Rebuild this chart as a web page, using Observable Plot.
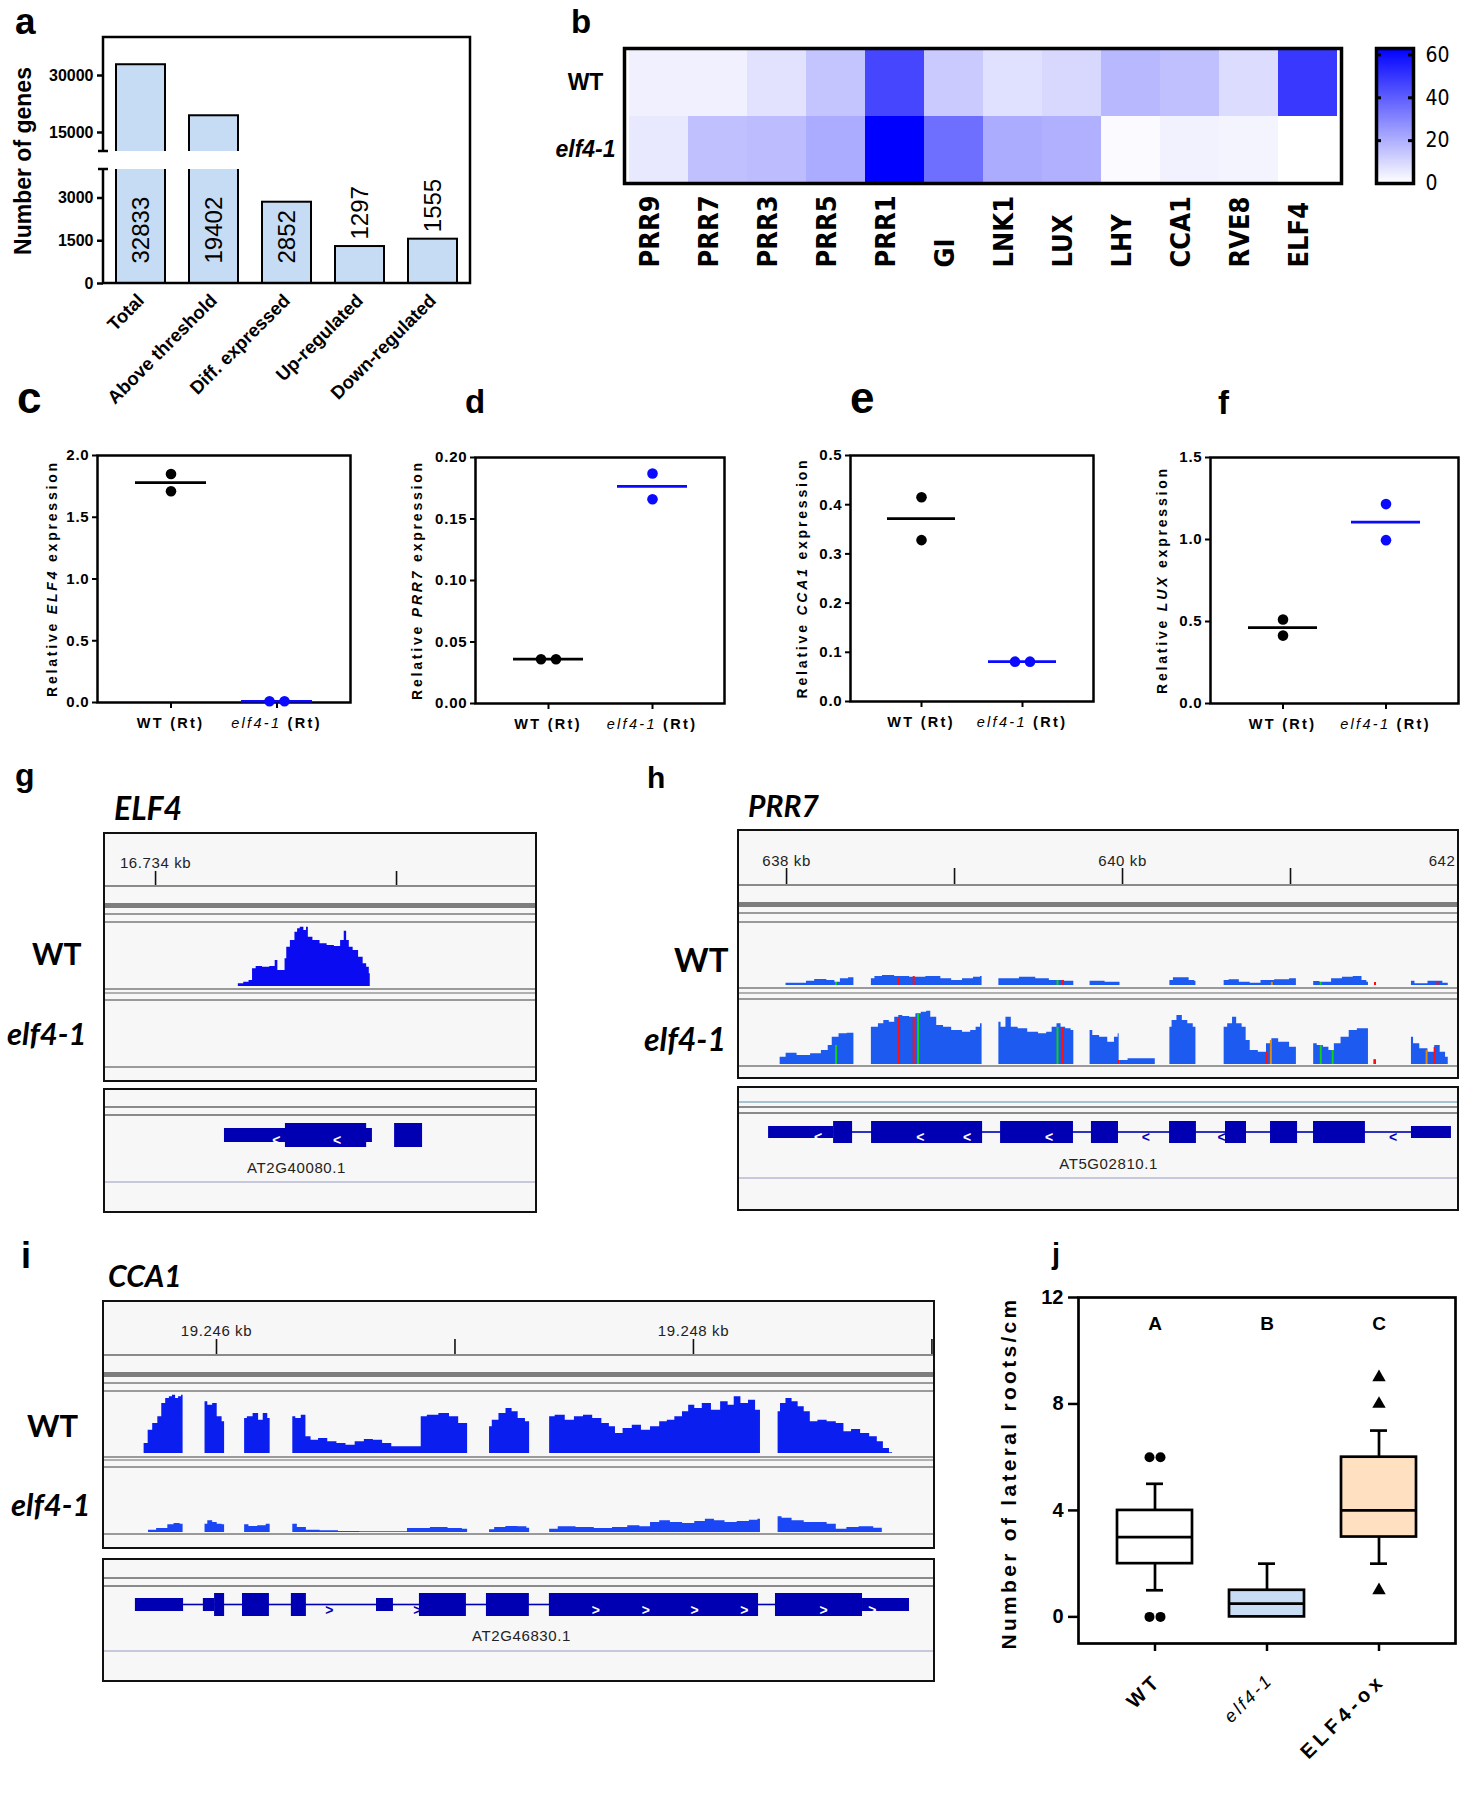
<!DOCTYPE html>
<html>
<head>
<meta charset="utf-8">
<script src="https://cdn.jsdelivr.net/npm/d3@7"></script>
<script src="https://cdn.jsdelivr.net/npm/@observablehq/plot@0.6"></script>
<style>
  html, body { margin: 0; padding: 0; background: #fff; }
  #root { position: relative; width: 1467px; height: 1800px; overflow: hidden; background: #fff; }
  .igvbox { position: absolute; box-sizing: border-box; border: 2.5px solid #111; background: #f7f7f7; }
  .hl { position: absolute; }
</style>
</head>
<body>
<div id="root"></div>
<script>
// ================= DATA =================
// (a) gene counts
const geneCategories = ["Total", "Above threshold", "Diff. expressed", "Up-regulated", "Down-regulated"];
const geneCounts = [32833, 19402, 2852, 1297, 1555];
const aUpperDomain = [10000, 40000];
const aLowerDomain = [0, 4000];
const aUpperTicks = [15000, 30000];
const aLowerTicks = [0, 1500, 3000];

// (b) heatmap
const clockGenes = ["PRR9", "PRR7", "PRR3", "PRR5", "PRR1", "GI", "LNK1", "LUX", "LHY", "CCA1", "RVE8", "ELF4"];
const genotypes = ["WT", "elf4-1"];
const heatWT = [3.7, 3.7, 7.2, 14.6, 45.7, 13.1, 7.7, 9.6, 17.5, 15.6, 8.6, 49.2];
const heatElf4 = [5.7, 15.6, 16.6, 20.8, 63, 35.8, 20.5, 19.5, 1.2, 3.2, 2.7, 0];
const heatMax = 63;
const heatTicks = [0, 20, 40, 60];

// (c-f) qPCR
const qGroups = ["WT", "elf4-1"];
const elf4WT = [1.85, 1.71], elf4Mut = [0.01, 0.01];
const prr7WT = [0.036, 0.036], prr7Mut = [0.187, 0.166];
const cca1WT = [0.415, 0.328], cca1Mut = [0.081, 0.081];
const luxWT = [0.512, 0.414], luxMut = [1.216, 0.996];

// (j) lateral roots
const rootGroups = ["WT", "elf4-1", "ELF4-ox"];
const rootLow = [1, 0, 2];
const rootQ1 = [2, 0, 3];
const rootMedian = [3, 0.5, 4];
const rootQ3 = [4, 1, 6];
const rootHigh = [5, 2, 7];
const rootOutlierGroup = ["WT", "WT", "WT", "WT", "ELF4-ox", "ELF4-ox", "ELF4-ox"];
const rootOutlierValue = [6, 6, 0, 0, 9, 8, 1];
const rootLetters = ["A", "B", "C"];
const rootLetterLevel = 11;
const rootTicks = [0, 4, 8, 12];

// (g) ELF4 locus, positions in bp from 16,734 kb
const gTicks = [0, 1000];
const gTickLabels = [{pos: 0, label: "16.734 kb", anchor: "middle"}];
const gCovWT = [[[332,0],[355,2.7],[377,4.3],[399,6],[406,17.7],[429,20],[459,19.3],[489,20],[504,26],[511,16],[534,16],[541,27.7],[548,39.3],[571,46],[586,54.3],[593,57.7],[608,59.3],[623,56],[630,59.3],[638,49.3],[668,46],[697,42.7],[727,41],[757,40],[779,46],[787,55.3],[799,46],[809,39.3],[831,36],[854,29.3],[869,22.7],[883,19.3],[891,12.7]]];
const gCovElf4 = [];
const gThin = [[286, 900]];
const gThick = [[539, 876], [992, 1108]];
const gIntrons = [];
const gExonChev = [502, 755];
const gIntronChev = [];

// (h) PRR7 locus, positions in bp from 638 kb
const hTicks = [0, 1000, 2000, 3000, 4000];
const hTickLabels = [{pos: 0, label: "638 kb", anchor: "middle"}, {pos: 2000, label: "640 kb", anchor: "middle"}, {pos: 4000, label: "642", anchor: "end"}];
const hCovWT = [
  [[-3,2.3],[111,2.3],[127,4.3],[208,6],[272,5],[304,3.3],[337,6.7],[401,7.7]],
  [[505,6.7],[547,9],[595,10],[692,9],[773,8.3],[886,9],[951,6.7],[1015,5],[1080,6.7],[1145,8.3],[1164,9]],
  [[1264,6.7],[1338,6.7],[1435,8.3],[1532,6.7],[1597,5],[1710,4.3]],
  [[1807,4.3],[1985,3.3]],
  [[2282,5],[2324,7.7],[2372,7.7],[2421,5],[2437,4.3]],
  [[2605,5],[2663,5.7],[2728,3.3],[2792,2.3],[2857,5],[2954,5.7],[3035,6.7]],
  [[3138,4],[3212,3.3],[3277,6.7],[3341,8.3],[3406,9],[3445,5],[3464,3.3]],
  [[3720,4.3],[3762,1.7],[3875,4.3],[3939,2.3]]
];
const hCovElf4 = [
  [[-57,0],[-19,7.3],[14,11.3],[111,9],[175,10.7],[240,14],[256,19],[288,27.3],[337,30.7],[385,31.3],[401,31.3]],
  [[505,37.3],[531,37.3],[563,40.7],[595,44],[628,42.3],[660,47.3],[676,49],[708,48],[757,47.3],[783,50.7],[821,52.3],[847,53.3],[870,47.3],[918,39],[951,37.3],[1015,34],[1080,32.3],[1112,34],[1145,37.3],[1164,40.7]],
  [[1264,42.3],[1290,37.3],[1322,47.3],[1354,37.3],[1403,35.7],[1468,32.3],[1532,30.7],[1565,32.3],[1597,37.3],[1623,40.7],[1645,37.3],[1678,35.7],[1710,34]],
  [[1807,34],[1839,29],[1888,27.3],[1936,22.3],[1968,27.3],[1980,30.7]],
  [[1985,4],[2081,5.7],[2195,5.7]],
  [[2282,37.3],[2308,44],[2340,49],[2372,44],[2405,40.7],[2437,37.3]],
  [[2605,37.3],[2647,40.7],[2663,47.3],[2696,40.7],[2728,37.3],[2744,24],[2776,14],[2841,12.3],[2873,20.7],[2905,25.7],[2954,22.3],[3035,17.3]],
  [[3138,20.7],[3180,19],[3212,17.3],[3245,14],[3277,20.7],[3325,27.3],[3374,34],[3422,35.7],[3464,35.7]],
  [[3496,4.7],[3509,4.7]],
  [[3720,27.3],[3745,20.7],[3794,15.7],[3842,12.3],[3875,19],[3907,12.3],[3939,7.3]]
];
const hMismatchWT = [[295,"A",3],[666,"T",8],[757,"T",9],[1613,"A",5],[1645,"T",5],[2889,"G",3],[3180,"A",3],[3503,"T",3],[3875,"T",4]];
const hMismatchElf4 = [[295,"A",19],[666,"T",47],[757,"T",47],[783,"A",50],[1613,"A",37],[1645,"T",37],[1978,"T",4],[2857,"T",12],[2883,"G",24],[3180,"A",19],[3251,"A",14],[3503,"T",4.7],[3810,"G",14],[3858,"T",17]];
const hThin = [[-107, 280], [3720, 3958]];
const hThick = [[280,393],[506,1167],[1274,1708],[1815,1976],[2280,2440],[2613,2738],[2881,3042],[3137,3446]];
const hIntrons = [[280, 3720]];
const hExonChev = [190, 798, 1077, 1565];
const hIntronChev = [2140, 2592, 3613];

// (i) CCA1 locus, positions in bp from 19,246 kb
const iTicks = [0, 1000, 2000, 3000];
const iTickLabels = [{pos: 0, label: "19.246 kb", anchor: "middle"}, {pos: 2000, label: "19.248 kb", anchor: "middle"}];
const iCovWT = [
  [[-314,0],[-293,10],[-280,23.3],[-255,30],[-237,36.7],[-222,50],[-204,55],[-191,56.7],[-178,58.3],[-165,55],[-153,56.7],[-140,58.3]],
  [[-48,51.7],[-25,48.3],[-7,50],[13,36.7],[34,31.7]],
  [[118,35],[141,36.7],[166,40],[187,33.3],[205,40],[225,35]],
  [[320,36.7],[345,35],[366,38.3],[384,16.7],[409,13.3],[447,15],[486,11.7],[524,10],[562,8.3],[601,11.7],[639,14],[677,13.3],[716,10],[754,6.7],[805,6.7],[856,6.7],[861,36.7],[907,38.3],[958,40],[996,36.7],[1035,30],[1053,30]],
  [[1145,26.7],[1168,33.3],[1201,40],[1227,45],[1252,41.7],[1278,35],[1313,31.7]],
  [[1397,36.7],[1443,38.3],[1482,33.3],[1520,36.7],[1558,38.3],[1597,35],[1635,30],[1660,26.7],[1686,20],[1724,25],[1763,28.3],[1801,23.3],[1839,26.7],[1878,31.7],[1903,33.3],[1941,36.7],[1967,41.7],[1993,48.3],[2018,45],[2056,50],[2095,43.3],[2133,51.7],[2158,48.3],[2184,56.7],[2214,50],[2248,53.3],[2273,43.3],[2281,43.3]],
  [[2355,41.7],[2375,50],[2401,55],[2426,51.7],[2452,46.7],[2477,41.7],[2503,31.7],[2541,33.3],[2580,31.7],[2618,30],[2644,21.7],[2682,24],[2720,20],[2758,16.7],[2784,11.7],[2809,5],[2835,0.7]]
];
const iCovElf4 = [
  [[-285,2.3],[-217,4],[-191,7.7],[-165,9],[-140,8.3]],
  [[-48,8.3],[-25,11.7],[-7,10],[13,8.3],[34,7.7]],
  [[118,7.7],[154,6],[192,6.7],[225,8.3]],
  [[320,8.3],[358,5],[396,2.3],[473,1.7],[550,1],[652,0.7],[741,0.7],[861,4],[933,5],[1009,4],[1053,3.3]],
  [[1145,2.7],[1188,5],[1239,6],[1290,5.7],[1313,4.3]],
  [[1397,3.3],[1469,5.7],[1546,5],[1622,4],[1699,5],[1750,6.7],[1801,5.7],[1839,10],[1878,11.7],[1929,10],[1980,9],[2031,11],[2069,13.3],[2107,11.7],[2158,10],[2209,11],[2260,12.3],[2281,13.3]],
  [[2355,15.7],[2388,14.3],[2439,11.7],[2490,10],[2541,10],[2580,8.3],[2618,3.3],[2669,5],[2720,5.7],[2792,4.3]]
];
const iThin = [[-340,-138],[-55,-8],[671,742],[2709,2906]];
const iThick = [[-8,34],[109,222],[314,377],[851,1048],[1132,1312],[1396,2273],[2344,2709]];
const iIntrons = [[-138, 2709]];
const iExonChev = [1592, 1802, 2006, 2215, 2547, 2751];
const iIntronChev = [474, 843];

// ================= HELPERS =================
const ARIAL = "'Liberation Sans', Arial, Helvetica, sans-serif";
const NARROW = "'Liberation Sans Narrow', 'Arial Narrow', 'DejaVu Sans Condensed', sans-serif";
const CAL = "Lato, 'Open Sans', sans-serif";
const BLUE = "#0a0aff";
const GENE = "#0000b2";
const root = document.getElementById("root");
function put(node, left, top) {
  node.style.position = "absolute";
  node.style.left = left + "px";
  node.style.top = top + "px";
  root.appendChild(node);
  return node;
}
const texts = [];
function T(x, y, parts, o = {}) { texts.push({x, y, parts: Array.isArray(parts) ? parts : [[parts]], o}); }

// ================= PANEL a =================
const aData = geneCategories.map((c, i) => ({category: c, count: geneCounts[i]}));
const aStyle = {fontFamily: ARIAL, fontSize: "16px", fontWeight: "bold", background: "transparent", color: "black"};
const aX = {domain: geneCategories, paddingInner: 0.333, paddingOuter: 0.167, label: null};
const BARFILL = "#c6dcf5";
const intFmt = d3.format("d");
const upper = Plot.plot({
  width: 474, height: 126, marginLeft: 103, marginRight: 4, marginTop: 10, marginBottom: 2,
  x: {...aX, axis: null}, y: {domain: aUpperDomain, label: null}, style: aStyle,
  marks: [
    Plot.barY(aData, {x: "category", y: "count", fill: BARFILL, stroke: "black", strokeWidth: 2, clip: true}),
    Plot.axisY({ticks: aUpperTicks, tickFormat: intFmt, tickSize: 6, tickPadding: 4, strokeWidth: 2.5, label: null})
  ]
});
put(upper, 0, 27);
const lower = Plot.plot({
  width: 474, height: 264, marginLeft: 103, marginRight: 4, marginTop: 10, marginBottom: 140,
  x: aX, y: {domain: aLowerDomain, label: null}, style: aStyle,
  marks: [
    Plot.barY(aData, {x: "category", y: "count", fill: BARFILL, stroke: "black", strokeWidth: 2, clip: true}),
    Plot.axisY({ticks: aLowerTicks, tickFormat: intFmt, tickSize: 6, tickPadding: 4, strokeWidth: 2.5, label: null}),
    Plot.axisX({tickRotate: -45, tickSize: 0, tickPadding: 14, fontSize: 18.5, label: null}),
    Plot.text(aData.filter(d => d.count > 2000), {x: "category", y: 0, text: d => String(d.count), rotate: -90, textAnchor: "start", dy: -20, fontSize: 24, fontWeight: "normal"}),
    Plot.text(aData.filter(d => d.count <= 2000), {x: "category", y: "count", text: d => String(d.count), rotate: -90, textAnchor: "start", dy: -7, fontSize: 24, fontWeight: "normal"})
  ]
});
put(lower, 0, 159);
T(23, 161, "Number of genes", {size: 23, rotate: -90, anchor: "middle", baseline: "central"});

// ================= PANEL b =================
const heatData = [];
clockGenes.forEach((g, i) => {
  heatData.push({gene: g, genotype: "WT", value: heatWT[i]});
  heatData.push({gene: g, genotype: "elf4-1", value: heatElf4[i]});
});
const heatColor = {type: "linear", domain: [0, heatMax], range: ["#ffffff", "#0000ff"], interpolate: "rgb"};
const heat = Plot.plot({
  width: 825, height: 233, marginLeft: 104, marginRight: 4, marginTop: 8, marginBottom: 90,
  x: {domain: clockGenes, padding: 0, axis: null}, y: {domain: genotypes, padding: 0, axis: null},
  color: heatColor,
  style: {fontFamily: ARIAL, background: "transparent", color: "black"},
  marks: [
    Plot.cell(heatData, {x: "gene", y: "genotype", fill: "value", shapeRendering: "crispEdges"}),
    Plot.frame({stroke: "black", strokeWidth: 3.5}),
    Plot.text(clockGenes, {x: d => d, text: d => d, frameAnchor: "bottom", rotate: -90, textAnchor: "start", dy: 84, fontSize: 27, fontWeight: "bold", fontFamily: NARROW}),
    Plot.text(["WT"], {y: d => d, text: d => d, frameAnchor: "left", textAnchor: "middle", dx: -39, fontSize: 23, fontWeight: "bold"}),
    Plot.text(["elf4-1"], {y: d => d, text: d => d, frameAnchor: "left", textAnchor: "middle", dx: -39, fontSize: 23, fontWeight: "bold", fontStyle: "italic"})
  ]
});
put(heat, 520, 40);
const rampStep = heatMax / 135;
const ramp = d3.range(0, heatMax, rampStep);
const cbar = Plot.plot({
  width: 101, height: 155, marginLeft: 10, marginRight: 54, marginTop: 8, marginBottom: 12,
  y: {domain: [0, heatMax], label: null}, color: heatColor,
  style: {fontFamily: NARROW, background: "transparent", color: "black"},
  marks: [
    Plot.rect(ramp, {y1: d => d, y2: d => Math.min(heatMax, d + rampStep * 1.5), fill: d => d + rampStep / 2, shapeRendering: "crispEdges"}),
    Plot.frame({stroke: "black", strokeWidth: 3.5}),
    Plot.tickY(heatTicks.filter(t => t > 0), {y: d => d, stroke: "black", strokeWidth: 3, insetRight: 32}),
    Plot.tickY(heatTicks.filter(t => t > 0), {y: d => d, stroke: "black", strokeWidth: 3, insetLeft: 32}),
    Plot.axisY({anchor: "right", ticks: heatTicks, tickSize: 0, tickPadding: 12, fontSize: 21, label: null})
  ]
});
put(cbar, 1366, 40);

// ================= PANELS c-f =================
function dotPanel(p) {
  const mL = 60, mR = 6, mT = 10, mB = 30;
  const W = p.x1 - p.x0, H = p.y1 - p.y0;
  const pts = [];
  [p.wt, p.elf].forEach((vals, gi) => {
    const close = Math.abs(vals[0] - vals[1]) < p.yMax * 0.03;
    vals.forEach((v, i) => pts.push({g: qGroups[gi], v, slot: close ? (i === 0 ? -1 : 1) : 0}));
  });
  const means = qGroups.map(g => ({g, m: d3.mean(pts.filter(d => d.g === g), d => d.v)}));
  const col = {"WT": "black", "elf4-1": BLUE};
  const marks = [
    Plot.frame({stroke: "black", strokeWidth: 2.5}),
    Plot.axisY({ticks: p.ticks, tickFormat: d3.format(p.fmt), tickSize: 5, tickPadding: 3, strokeWidth: 2, fontSize: 15, label: null}),
    Plot.axisX({tickSize: 6, strokeWidth: 2, tickFormat: () => "", label: null})
  ];
  qGroups.forEach(g => {
    marks.push(Plot.tickY(means.filter(d => d.g === g), {x: "g", y: "m", stroke: col[g], strokeWidth: 2.7}));
    [-1, 0, 1].forEach(s => marks.push(Plot.dot(pts.filter(d => d.g === g && d.slot === s), {x: "g", y: "v", r: 5.3, fill: col[g], dx: s * 7.5})));
  });
  const chart = Plot.plot({
    width: W + mL + mR, height: H + mT + mB, marginLeft: mL, marginRight: mR, marginTop: mT, marginBottom: mB,
    x: {domain: qGroups, paddingInner: 0.327, paddingOuter: 0.356, label: null},
    y: {domain: [0, p.yMax], label: null},
    style: {fontFamily: ARIAL, fontWeight: "bold", background: "transparent", color: "black", letterSpacing: "0.8px"},
    marks
  });
  put(chart, p.x0 - mL, p.y0 - mT);
  const xs = chart.scale("x");
  const cx = g => p.x0 - mL + xs.apply(g) + xs.bandwidth / 2;
  T(cx("WT"), p.y1 + 26, "WT (Rt)", {size: 14.5, anchor: "middle", spacing: 2.3});
  T(cx("elf4-1"), p.y1 + 26, [["elf4-1", {"font-style": "italic", "font-weight": "normal"}], [" (Rt)"]], {size: 14.5, anchor: "middle", spacing: 2.3});
  T(p.labelX, (p.y0 + p.y1) / 2, [["Relative "], [p.gene, {"font-style": "italic"}], [" expression"]], {size: 14, rotate: -90, anchor: "middle", baseline: "central", spacing: 2.8});
}
dotPanel({x0: 97, x1: 350, y0: 455, y1: 702, wt: elf4WT, elf: elf4Mut, yMax: 2, ticks: [0, 0.5, 1, 1.5, 2], fmt: ".1f", gene: "ELF4", labelX: 52});
dotPanel({x0: 475, x1: 724, y0: 457, y1: 703, wt: prr7WT, elf: prr7Mut, yMax: 0.2, ticks: [0, 0.05, 0.1, 0.15, 0.2], fmt: ".2f", gene: "PRR7", labelX: 417});
dotPanel({x0: 850, x1: 1093, y0: 455, y1: 701, wt: cca1WT, elf: cca1Mut, yMax: 0.5, ticks: [0, 0.1, 0.2, 0.3, 0.4, 0.5], fmt: ".1f", gene: "CCA1", labelX: 802});
dotPanel({x0: 1210, x1: 1458, y0: 457, y1: 703, wt: luxWT, elf: luxMut, yMax: 1.5, ticks: [0, 0.5, 1, 1.5], fmt: ".1f", gene: "LUX", labelX: 1162});

// ================= PANEL j =================
(function () {
  const x0 = 1078, x1 = 1455, y0 = 1297, y1 = 1643;
  const mL = 60, mR = 6, mT = 10, mB = 20;
  const stats = rootGroups.map((g, i) => ({g, lo: rootLow[i], q1: rootQ1[i], med: rootMedian[i], q3: rootQ3[i], hi: rootHigh[i]}));
  const outs = rootOutlierGroup.map((g, i) => ({g, v: rootOutlierValue[i]}));
  outs.forEach(d => {
    const same = outs.filter(e => e.g === d.g && e.v === d.v);
    d.slot = same.length > 1 ? (same.indexOf(d) === 0 ? -1 : 1) : 0;
  });
  const lw = 2.7;
  const marks = [
    Plot.frame({stroke: "black", strokeWidth: lw}),
    Plot.axisY({ticks: rootTicks, tickSize: 10, tickPadding: 5, strokeWidth: 2.5, fontSize: 20, label: null}),
    Plot.axisX({tickSize: 8, strokeWidth: 2.5, tickFormat: () => "", label: null}),
    Plot.ruleX(stats, {x: "g", y1: "q3", y2: "hi", stroke: "black", strokeWidth: lw}),
    Plot.ruleX(stats, {x: "g", y1: "lo", y2: "q1", stroke: "black", strokeWidth: lw}),
    Plot.tickY(stats, {x: "g", y: "hi", stroke: "black", strokeWidth: lw, insetLeft: 29, insetRight: 29}),
    Plot.tickY(stats.filter(d => d.lo < d.q1), {x: "g", y: "lo", stroke: "black", strokeWidth: lw, insetLeft: 29, insetRight: 29}),
    Plot.barY(stats, {x: "g", y1: "q1", y2: "q3", fill: "g", stroke: "black", strokeWidth: lw}),
    Plot.tickY(stats, {x: "g", y: "med", stroke: "black", strokeWidth: lw}),
    Plot.text(rootGroups, {x: d => d, y: () => rootLetterLevel, text: (d, i) => rootLetters[i], fontSize: 19, fontWeight: "bold"})
  ];
  [-1, 0, 1].forEach(s => marks.push(Plot.dot(outs.filter(d => d.slot === s), {x: "g", y: "v", symbol: "g", fill: "black", r: 5, dx: s * 5.5})));
  const chart = Plot.plot({
    width: (x1 - x0) + mL + mR, height: (y1 - y0) + mT + mB,
    marginLeft: mL, marginRight: mR, marginTop: mT, marginBottom: mB,
    x: {domain: rootGroups, paddingInner: 0.327, paddingOuter: 0.333, label: null},
    y: {domain: [-1, 12], label: null},
    color: {domain: rootGroups, range: ["#ffffff", "#c8dcf4", "#ffe1c2"]},
    symbol: {domain: rootGroups, range: ["circle", "circle", "triangle"]},
    style: {fontFamily: ARIAL, fontWeight: "bold", background: "transparent", color: "black"},
    marks
  });
  put(chart, x0 - mL, y0 - mT);
  const xs = chart.scale("x");
  const cx = g => x0 - mL + xs.apply(g) + xs.bandwidth / 2;
  T(cx("WT") + 3, y1 + 34, "WT", {size: 20, anchor: "end", baseline: "central", rotate: -45, spacing: 4});
  T(cx("elf4-1") + 3, y1 + 34, [["elf4-1", {"font-style": "italic", "font-weight": "normal"}]], {size: 18, anchor: "end", baseline: "central", rotate: -45, spacing: 2.5});
  T(cx("ELF4-ox") + 3, y1 + 34, "ELF4-ox", {size: 20, anchor: "end", baseline: "central", rotate: -45, spacing: 4.5});
  T(1008, 1473, "Number of lateral roots/cm", {size: 21, rotate: -90, anchor: "middle", baseline: "central", spacing: 3.3});
})();

// ================= IGV PANELS =================
const mmColor = {domain: ["A", "C", "G", "T"], range: ["#12d012", "#0000ff", "#e08a10", "#ff1010"]};
function flat(blocks) { return blocks.flatMap((b, bi) => b.map(([pos, cov]) => ({pos, cov, block: bi}))); }
function hline(x0, x1, y, t, c) {
  const l = document.createElement("div");
  l.className = "hl";
  Object.assign(l.style, {left: (x0 + 2) + "px", width: (x1 - x0 - 4) + "px", top: (y - t / 2) + "px", height: t + "px", background: c || "#9a9a9a"});
  root.appendChild(l);
}
function boxDiv(x0, y0, x1, y1) {
  const b = document.createElement("div");
  b.className = "igvbox";
  Object.assign(b.style, {left: x0 + "px", top: y0 + "px", width: (x1 - x0) + "px", height: (y1 - y0) + "px"});
  root.appendChild(b);
}
function igvPanel(cfg) {
  const W = cfg.x1 - cfg.x0;
  boxDiv(cfg.x0, cfg.y0, cfg.x1, cfg.y1);
  boxDiv(cfg.x0, cfg.gy0, cfg.x1, cfg.gy1);
  cfg.lines.concat(cfg.geneLines).forEach(([y, t, c]) => hline(cfg.x0, cfg.x1, y, t, c));
  const base = {width: W, margin: 0, x: {domain: cfg.domain, axis: null},
    style: {background: "transparent", fontFamily: ARIAL, overflow: "hidden", color: "#222", letterSpacing: "0.6px"}};
  const RH = cfg.rulerBottom - cfg.y0;
  const labelMarks = ["start", "middle", "end"].map(a => Plot.text(cfg.tickLabels.filter(d => d.anchor === a), {x: "pos", text: "label", frameAnchor: "top", textAnchor: a, dx: a === "end" ? -3 : 0, dy: cfg.labelY - cfg.y0, fontSize: 15, fill: "#222"}));
  put(Plot.plot({...base, height: RH, marks: [
    Plot.tickX(cfg.ticks, {x: d => d, insetTop: RH - cfg.tickLen - 1, insetBottom: 1, stroke: "#111", strokeWidth: 1.6}),
    ...labelMarks
  ]}), cfg.x0, cfg.y0);
  cfg.tracks.forEach(t => {
    const H = t.bottom - t.top;
    put(Plot.plot({...base, height: H, y: {domain: [0, t.covMax], axis: null}, color: mmColor, marks: [
      Plot.areaY(flat(t.blocks), {x: "pos", y: "cov", z: "block", curve: "step", fill: t.color}),
      Plot.ruleX(t.mm, {x: d => d[0], y1: 0, y2: d => d[2], stroke: d => d[1], strokeWidth: 2})
    ]}), cfg.x0, t.top);
  });
  const g = cfg.gene;
  const GH = g.nameY + 10 - g.thickTop, th = g.thickH, tn = g.thinH;
  put(Plot.plot({...base, height: GH, marks: [
    Plot.rect(g.introns, {x1: d => d[0], x2: d => d[1], insetTop: th / 2 - 0.8, insetBottom: GH - th / 2 - 0.8, fill: GENE}),
    Plot.rect(g.thin, {x1: d => d[0], x2: d => d[1], insetTop: (th - tn) / 2, insetBottom: GH - th + (th - tn) / 2, fill: GENE}),
    Plot.rect(g.thick, {x1: d => d[0], x2: d => d[1], insetTop: 0, insetBottom: GH - th, fill: GENE}),
    Plot.text(g.exonChev, {x: d => d, text: () => g.dir, frameAnchor: "top", dy: th / 2, fill: "white", fontSize: 14, fontWeight: "bold"}),
    Plot.text(g.intronChev, {x: d => d, text: () => g.dir, frameAnchor: "top", dy: th / 2, fill: GENE, fontSize: 14, fontWeight: "bold"}),
    Plot.text([g], {x: "namePos", text: "name", frameAnchor: "bottom", dy: -10, fontSize: 15, fill: "#222"})
  ]}), cfg.x0, g.thickTop);
}
const GL = "#9a9a9a", GD = "#7d7d7d", GLT = "#c8c8dc";
igvPanel({
  x0: 103, x1: 537, y0: 832, y1: 1082, gy0: 1088, gy1: 1213, domain: [-216, 1585],
  rulerBottom: 886, tickLen: 14, labelY: 857, ticks: gTicks, tickLabels: gTickLabels,
  lines: [[886, 2, "#8a8a8a"], [905.5, 5, GD], [914, 1.5, GL], [922, 2, GL], [989, 1.5, GL], [993, 1.5, "#b0b0b0"], [1000, 2, GL], [1067, 2, GL]],
  geneLines: [[1107, 2, "#8a8a8a"], [1115, 2, "#8a8a8a"], [1182, 1.5, GLT]],
  tracks: [
    {top: 923, bottom: 986, covMax: 63, blocks: gCovWT, color: "#0b0bf2", mm: []},
    {top: 1002, bottom: 1067, covMax: 65, blocks: gCovElf4, color: "#0b0bf2", mm: []}
  ],
  gene: {thickTop: 1123, thickH: 24, thinH: 14, nameY: 1172, thin: gThin, thick: gThick, introns: gIntrons,
    exonChev: gExonChev, intronChev: gIntronChev, dir: "<", name: "AT2G40080.1", namePos: 585}
});
igvPanel({
  x0: 737, x1: 1459, y0: 829, y1: 1079, gy0: 1086, gy1: 1211, domain: [-292, 4006],
  rulerBottom: 885, tickLen: 16, labelY: 855, ticks: hTicks, tickLabels: hTickLabels,
  lines: [[885, 2, "#8a8a8a"], [904.5, 5, GD], [913, 1.5, GL], [922, 2, GL], [988, 1.5, GL], [993, 1.5, "#b0b0b0"], [999, 2, GL], [1066, 2, GL]],
  geneLines: [[1102, 1.5, "#a9c2d0"], [1107, 2, "#8a8a8a"], [1113, 2, "#8a8a8a"], [1178, 1.5, GLT]],
  tracks: [
    {top: 922, bottom: 985, covMax: 63, blocks: hCovWT, color: "#1c5af0", mm: hMismatchWT},
    {top: 999, bottom: 1064, covMax: 65, blocks: hCovElf4, color: "#1c5af0", mm: hMismatchElf4}
  ],
  gene: {thickTop: 1121, thickH: 22, thinH: 12, nameY: 1168, thin: hThin, thick: hThick, introns: hIntrons,
    exonChev: hExonChev, intronChev: hIntronChev, dir: "<", name: "AT5G02810.1", namePos: 1917}
});
igvPanel({
  x0: 102, x1: 935, y0: 1300, y1: 1549, gy0: 1558, gy1: 1682, domain: [-478, 3015],
  rulerBottom: 1355, tickLen: 15, labelY: 1325, ticks: iTicks, tickLabels: iTickLabels,
  lines: [[1355, 2, "#8a8a8a"], [1374.5, 5, GD], [1383, 1.5, GL], [1391, 2, GL], [1457, 1.5, GL], [1460, 1.5, "#b0b0b0"], [1467, 2, GL], [1534, 2, GL]],
  geneLines: [[1578, 2, "#8a8a8a"], [1586, 2, "#8a8a8a"], [1651, 1.5, GLT]],
  tracks: [
    {top: 1391, bottom: 1453, covMax: 62, blocks: iCovWT, color: "#0a1ef0", mm: []},
    {top: 1467, bottom: 1532, covMax: 65, blocks: iCovElf4, color: "#1a46f5", mm: []}
  ],
  gene: {thickTop: 1593, thickH: 23, thinH: 13, nameY: 1640, thin: iThin, thick: iThick, introns: iIntrons,
    exonChev: iExonChev, intronChev: iIntronChev, dir: ">", name: "AT2G46830.1", namePos: 1279}
});

// ================= TEXT LABELS =================
[["a", 15, 34, 37], ["b", 571, 33, 33], ["c", 17, 413, 44], ["d", 465, 413, 33], ["e", 850, 413, 44], ["f", 1218, 414, 33],
 ["g", 15, 786, 32], ["h", 647, 788, 30], ["i", 21, 1268, 36], ["j", 1052, 1264, 29]].forEach(([s, x, y, sz]) => T(x, y, s, {size: sz}));
T(114, 820, "ELF4", {size: 32, family: CAL, style: "italic"});
T(748, 817, "PRR7", {size: 30, family: CAL, style: "italic"});
T(108, 1287, "CCA1", {size: 30, family: CAL, style: "italic"});
T(32, 965, "WT", {size: 30, family: CAL});
T(7, 1045, "elf4-1", {size: 31, family: CAL, style: "italic"});
T(674, 972, "WT", {size: 33, family: CAL});
T(644, 1051, "elf4-1", {size: 32, family: CAL, style: "italic"});
T(27, 1437, "WT", {size: 31, family: CAL});
T(11, 1516, "elf4-1", {size: 31, family: CAL, style: "italic"});

const ov = d3.select(root).append("svg")
  .attr("width", 1467).attr("height", 1800)
  .style("position", "absolute").style("left", "0px").style("top", "0px").style("pointer-events", "none");
const af = ov.append("g").attr("stroke", "black").attr("stroke-width", 2.5).attr("fill", "none");
af.append("path").attr("d", "M101.75,37H470V283H103V169M103,151V37");
af.append("path").attr("d", "M98,151H108M98,169H108");
texts.forEach(({x, y, parts, o}) => {
  const t = ov.append("text").attr("x", x).attr("y", y)
    .attr("font-family", o.family || ARIAL).attr("font-size", o.size || 14)
    .attr("font-weight", o.weight || "bold").attr("text-anchor", o.anchor || "start")
    .attr("fill", "black");
  if (o.spacing) t.attr("letter-spacing", o.spacing);
  if (o.baseline) t.attr("dominant-baseline", o.baseline);
  if (o.style) t.attr("font-style", o.style);
  if (o.rotate) t.attr("transform", `rotate(${o.rotate},${x},${y})`);
  parts.forEach(([s, attrs]) => {
    const sp = t.append("tspan").text(s);
    if (attrs) Object.entries(attrs).forEach(([k, v]) => sp.attr(k, v));
  });
});
</script>
</body>
</html>
